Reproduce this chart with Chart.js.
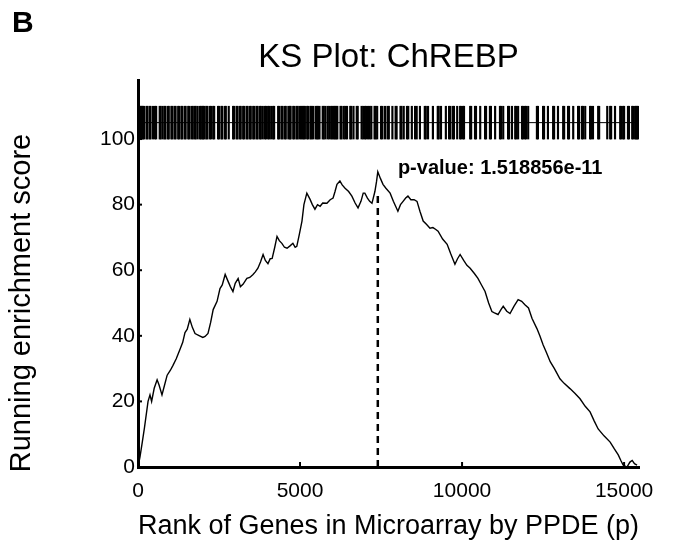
<!DOCTYPE html>
<html>
<head>
<meta charset="utf-8">
<script src="https://cdn.jsdelivr.net/npm/chart.js@4"></script>
<style>
  body { margin: 0; background: #fff; }
  #wrap { width: 674px; height: 550px; position: relative; }
</style>
</head>
<body>
<div id="wrap"><canvas id="chart"></canvas></div>
<script>
// running enrichment score
var rankPoints = [0, 60, 123, 200, 310, 370, 420, 500, 590, 650, 740, 820, 900, 1000, 1080, 1180, 1300, 1380, 1450, 1520,
    1600, 1680, 1760, 1900, 2000, 2070, 2160, 2240, 2320, 2440, 2530, 2600, 2690, 2780, 2850, 2930, 3000, 3090, 3160, 3240,
    3360, 3450, 3550, 3620, 3700, 3780, 3860, 3930, 4010, 4080, 4140, 4220, 4290, 4360, 4440, 4520, 4600, 4700, 4780, 4850,
    4900, 4980, 5060, 5120, 5210, 5310, 5380, 5460, 5540, 5620, 5700, 5830, 5930, 6020, 6080, 6140, 6230, 6300, 6390, 6500,
    6600, 6700, 6790, 6880, 6950, 7000, 7080, 7150, 7220, 7310, 7360, 7400, 7480, 7560, 7650, 7780, 7880, 7950, 8020, 8100,
    8180, 8260, 8330, 8420, 8520, 8610, 8700, 8800, 8900, 9010, 9100, 9180, 9260, 9400, 9540, 9650, 9780, 9860, 9940, 10050,
    10150, 10250, 10380, 10490, 10600, 10710, 10820, 10920, 11000, 11110, 11200, 11270, 11380, 11480, 11600, 11730, 11840, 11940, 12050, 12160,
    12310, 12400, 12500, 12600, 12720, 12850, 13020, 13150, 13330, 13480, 13640, 13800, 13950, 14080, 14200, 14380, 14570, 14700, 14820, 14900,
    14970, 15090, 15180, 15250, 15320, 15400];
var scorePoints = [0, 3, 7, 12, 20, 22, 20, 24, 26.6, 25, 22, 25, 28, 29.5, 31, 33, 36, 38, 41, 42,
    45, 42.5, 40.7, 40, 39.5, 39.8, 40.7, 44, 48, 50.5, 54.4, 55.5, 58.7, 56.6, 55, 53.5, 56, 57.5, 55, 55.7,
    57.5, 57.8, 58.7, 59.5, 60.6, 62.5, 64.8, 63, 62, 63.5, 63.6, 67, 70.3, 69, 68.2, 67, 66.7, 67.5, 68.2, 67,
    67.3, 71, 75, 80, 83.5, 81.6, 80, 78.6, 80, 79.5, 80.5, 80.4, 81.5, 82, 84, 86.2, 87.2, 86, 85, 84,
    82.6, 80.5, 79, 81, 83.5, 83.5, 82, 81, 80.4, 84, 87, 90, 88, 86.2, 85, 83.5, 81, 79.5, 78, 80,
    81, 82, 82.6, 81.5, 81.5, 81, 78, 75, 74, 72.8, 73, 72.5, 71.9, 69.5, 67.9, 65, 61.8, 63.5, 64.8, 63,
    61.5, 60.6, 59, 57.5, 55.5, 53.5, 50, 47.4, 47, 46.5, 48, 49, 47.5, 46.8, 49, 51, 50.5, 49.5, 48.5, 45.3,
    42.2, 40, 37.3, 35, 32.1, 30, 26.9, 25.5, 23.9, 22.5, 20.8, 18.5, 16.8, 14, 11.6, 9.5, 7.6, 5.5, 3.7, 2,
    0.6, 0, 1.5, 2, 1, 0.6];

// ranks of the gene set members (barcode on top)
var hitRanks = [25, 50, 75, 105, 130, 160, 190, 265, 290, 360, 385, 460, 520, 560, 670, 700, 760, 820, 845, 920,
    950, 1030, 1060, 1130, 1160, 1240, 1270, 1340, 1365, 1440, 1470, 1550, 1580, 1650, 1690, 1750, 1780, 1840, 1910, 1940,
    1990, 2010, 2050, 2110, 2140, 2215, 2250, 2320, 2350, 2470, 2500, 2575, 2600, 2680, 2710, 2800, 2935, 2960, 3040, 3070,
    3140, 3170, 3245, 3275, 3350, 3380, 3450, 3480, 3555, 3590, 3660, 3690, 3760, 3790, 3850, 3915, 3950, 4015, 4050, 4110,
    4170, 4200, 4325, 4350, 4425, 4460, 4530, 4560, 4640, 4685, 4710, 4790, 4820, 4890, 4920, 4980, 5030, 5080, 5110, 5150,
    5220, 5250, 5320, 5350, 5400, 5480, 5520, 5560, 5600, 5700, 5730, 5780, 5850, 5900, 5960, 6000, 6040, 6080, 6120, 6150,
    6250, 6280, 6350, 6400, 6450, 6550, 6580, 6650, 6750, 6780, 6900, 6950, 7000, 7040, 7100, 7150, 7200, 7300, 7330, 7380,
    7500, 7540, 7620, 7700, 7740, 7850, 7950, 7980, 8100, 8130, 8200, 8300, 8340, 8450, 8550, 8600, 8700, 8850, 8880, 8950,
    9100, 9250, 9280, 9350, 9500, 9600, 9640, 9720, 9750, 9850, 9940, 9970, 10030, 10060, 10250, 10280, 10400, 10430, 10560, 10710,
    10740, 10860, 10890, 11020, 11170, 11200, 11270, 11420, 11450, 11540, 11640, 11670, 11730, 11850, 11880, 11940, 11970, 12040, 12310, 12340,
    12500, 12530, 12650, 12810, 12840, 12960, 13120, 13150, 13270, 13300, 13430, 13580, 13610, 13700, 13730, 13800, 13950, 13980, 14040, 14200,
    14230, 14480, 14570, 14600, 14720, 14880, 14910, 14970, 15000, 15120, 15150, 15250, 15280, 15340, 15370, 15400, 15430];
var barcodeRange = [100, 110];
var barcodeMid = 105;

var peakRank = 7400;
var peakLineTop = 83;
var pValueText = 'p-value: 1.518856e-11';
var pValuePos = { x: 8020, y: 91 };

var xTicks = [0, 5000, 10000, 15000];
var yTicks = [0, 20, 40, 60, 80, 100];
var xMax = 15460;
var yMax = 118;

var chartTitle = 'KS Plot: ChREBP';
var panelLabel = 'B';
var xTitle = 'Rank of Genes in Microarray by PPDE (p)';
var yTitle = 'Running enrichment score';

var FONT = '"Liberation Sans", Arial, Helvetica, sans-serif';

var extrasPlugin = {
    id: 'extras',
    afterDraw: (chart) => {
        var ctx = chart.ctx;
        var x = chart.scales.x;
        var y = chart.scales.y;
        var area = chart.chartArea;

        ctx.save();
        // inward tick marks
        ctx.strokeStyle = '#000';
        ctx.lineWidth = 2;
        xTicks.forEach(t => {
            if (t === 0) return;
            var px = x.getPixelForValue(t);
            ctx.beginPath();
            ctx.moveTo(px, y.bottom);
            ctx.lineTo(px, y.bottom - 5);
            ctx.stroke();
        });
        yTicks.forEach(t => {
            if (t === 0) return;
            var py = y.getPixelForValue(t);
            ctx.beginPath();
            ctx.moveTo(x.left, py);
            ctx.lineTo(x.left + 4, py);
            ctx.stroke();
        });

        ctx.fillStyle = '#000';

        // title, centred over the axes
        ctx.font = '33px ' + FONT;
        ctx.textAlign = 'center';
        ctx.textBaseline = 'middle';
        ctx.fillText(chartTitle, (area.left + area.right) / 2, 58);

        // y title, centred over the 0..100 range
        var yMid = (y.getPixelForValue(yTicks[0]) + y.getPixelForValue(yTicks[yTicks.length - 1])) / 2;
        ctx.save();
        ctx.translate(22, yMid);
        ctx.rotate(-Math.PI / 2);
        ctx.font = '29px ' + FONT;
        ctx.fillText(yTitle, 0, 0);
        ctx.restore();

        // p-value label
        ctx.font = 'bold 20px ' + FONT;
        ctx.textAlign = 'left';
        ctx.fillText(pValueText, x.getPixelForValue(pValuePos.x), y.getPixelForValue(pValuePos.y));

        // panel letter
        ctx.font = 'bold 30px ' + FONT;
        ctx.textBaseline = 'alphabetic';
        ctx.fillText(panelLabel, 12, 32);
        ctx.restore();
    }
};

var curve = rankPoints.map((r, i) => ({ x: r, y: scorePoints[i] }));

new Chart(document.getElementById('chart'), {
    type: 'line',
    data: {
        datasets: [
            {
                type: 'bar',
                data: hitRanks.map(r => ({ x: r, y: barcodeRange })),
                backgroundColor: '#000',
                borderWidth: 0,
                barThickness: 1.5,
                order: 3
            },
            {
                data: [{ x: 0, y: barcodeMid }, { x: xMax, y: barcodeMid }],
                borderColor: '#000',
                borderWidth: 1,
                pointRadius: 0,
                order: 2
            },
            {
                data: curve,
                borderColor: '#000',
                borderWidth: 1.4,
                pointRadius: 0,
                tension: 0,
                order: 1
            },
            {
                data: [{ x: peakRank, y: 0 }, { x: peakRank, y: peakLineTop }],
                borderColor: '#000',
                borderWidth: 2.5,
                borderDash: [7, 5],
                pointRadius: 0,
                order: 0
            }
        ]
    },
    options: {
        responsive: true,
        maintainAspectRatio: false,
        animation: false,
        layout: { padding: { left: 0, right: 35, top: 80, bottom: 0 } },
        scales: {
            x: {
                type: 'linear',
                min: 0,
                max: xMax,
                offset: false,
                afterBuildTicks: (s) => { s.ticks = xTicks.map(v => ({ value: v })); },
                afterFit: (s) => { s.height = 83; },
                grid: { display: false, drawTicks: false },
                border: { display: true, color: '#000', width: 3 },
                ticks: { color: '#000', font: { family: FONT, size: 21 }, padding: 12, maxRotation: 0, callback: v => String(v) },
                title: { display: true, text: xTitle, color: '#000', font: { family: FONT, size: 27 }, padding: { top: 0, bottom: 7 } }
            },
            y: {
                type: 'linear',
                min: 0,
                max: yMax,
                afterBuildTicks: (s) => { s.ticks = yTicks.map(v => ({ value: v })); },
                afterFit: (s) => { s.width = 138; },
                grid: { display: false, drawTicks: false },
                border: { display: true, color: '#000', width: 3 },
                ticks: { color: '#000', font: { family: FONT, size: 21 }, padding: 3 }
            }
        },
        plugins: {
            legend: { display: false },
            tooltip: { enabled: false },
            title: { display: false }
        }
    },
    plugins: [extrasPlugin]
});
</script>
</body>
</html>
